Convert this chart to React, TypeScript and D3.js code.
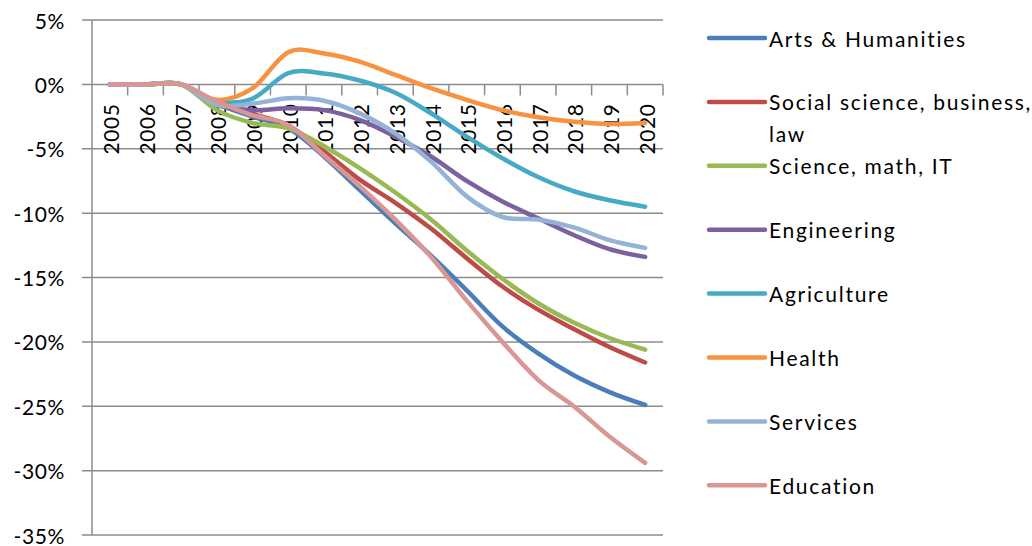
import React from "react";
import * as d3 from "d3";

const years = ["2005","2006","2007","2008","2009","2010","2011","2012","2013","2014","2015","2016","2017","2018","2019","2020"];

const artsHumanities = [0,0,0,-1.5,-2.5,-3.4,-5.6,-8.2,-10.8,-13.3,-16.0,-18.8,-20.9,-22.6,-23.9,-24.9];
const socialScience = [0,0,0,-1.5,-2.3,-3.2,-5.2,-7.4,-9.2,-11.2,-13.5,-15.7,-17.5,-19.0,-20.4,-21.6];
const scienceMath = [0,0,0,-2.0,-3.0,-3.4,-4.8,-6.5,-8.4,-10.5,-12.9,-15.1,-17.0,-18.5,-19.7,-20.6];
const engineering = [0,0,0,-1.6,-2.0,-1.86,-2.0,-2.76,-4.06,-5.6,-7.5,-9.1,-10.4,-11.7,-12.8,-13.4];
const agriculture = [0,0,0,-1.3,-1.1,0.88,0.85,0.3,-0.65,-2.25,-4.06,-5.74,-7.2,-8.3,-9.0,-9.5];
const health = [0,0,0,-1.2,-0.3,2.5,2.4,1.76,0.73,-0.3,-1.2,-2.0,-2.55,-2.9,-3.07,-3.0];
const services = [0,0,0,-1.6,-1.5,-1.08,-1.27,-2.25,-3.8,-6.0,-8.7,-10.3,-10.5,-11.1,-12.1,-12.7];
const education = [0,0,0,-1.34,-2.4,-3.15,-5.5,-7.9,-10.5,-13.4,-16.8,-20.0,-22.95,-25.0,-27.35,-29.4];

const seriesLabels = [
  ["Arts & Humanities"],
  ["Social science, business,", "law"],
  ["Science, math, IT"],
  ["Engineering"],
  ["Agriculture"],
  ["Health"],
  ["Services"],
  ["Education"],
];
const seriesValues = [artsHumanities, socialScience, scienceMath, engineering, agriculture, health, services, education];
const seriesColors = ["#4A7EBB", "#BE4B48", "#98B954", "#7D60A0", "#46AAC5", "#F69240", "#95B3D7", "#D99694"];

const yTicks = [5, 0, -5, -10, -15, -20, -25, -30, -35];

const FONT = "Lato, 'Open Sans', sans-serif";

export default function App() {
  const W = 1032, H = 546;
  const left = 92, right = 663, top = 20, bottom = 535;
  const x = d3.scaleBand<string>().domain(years).range([left, right]);
  const y = d3.scaleLinear().domain([-35, 5]).range([bottom, top]);
  const cx = (yr: string) => (x(yr) as number) + x.bandwidth() / 2;
  const line = d3
    .line<number>()
    .x((_, i) => cx(years[i]))
    .y((d) => y(d))
    .curve(d3.curveCatmullRom.alpha(0));
  const grid = "#8C8C8C";
  const legendX = 709;
  const legendY0 = 38;
  const legendStep = 63.9;

  return (
    <svg
      width={W}
      height={H}
      style={{ position: "fixed", left: 0, top: 0, background: "#fff" }}
      fontFamily={FONT}
    >
      <rect x={0} y={0} width={W} height={H} fill="#fff" />
      {yTicks.map((t) => (
        <g key={t}>
          <line x1={left - 10} x2={right} y1={y(t)} y2={y(t)} stroke={grid} strokeWidth={1.5} />
          <text
            x={65}
            y={y(t)}
            textAnchor="end"
            dominantBaseline="central"
            fontSize={21}
            letterSpacing={0.6}
            fill="#000"
          >
            {t + "%"}
          </text>
        </g>
      ))}
      <line x1={left} x2={left} y1={top} y2={bottom} stroke={grid} strokeWidth={1.5} />
      {years.map((yr) => (
        <line
          key={"t" + yr}
          x1={(x(yr) as number) + x.bandwidth()}
          x2={(x(yr) as number) + x.bandwidth()}
          y1={y(0)}
          y2={y(0) + 11}
          stroke={grid}
          strokeWidth={1.5}
        />
      ))}
      {years.map((yr) => (
        <text
          key={"l" + yr}
          transform={`translate(${cx(yr) + 1},${y(0) + 19}) rotate(-90)`}
          textAnchor="end"
          dominantBaseline="central"
          fontSize={21}
          letterSpacing={0.6}
          fill="#000"
        >
          {yr}
        </text>
      ))}
      {seriesValues.map((vals, i) => (
        <path
          key={"s" + i}
          d={line(vals) || ""}
          fill="none"
          stroke={seriesColors[i]}
          strokeWidth={4.5}
          strokeLinecap="round"
          strokeLinejoin="round"
        />
      ))}
      {seriesLabels.map((lines, i) => {
        const ly = legendY0 + i * legendStep;
        return (
          <g key={"lg" + i}>
            <line
              x1={legendX}
              x2={legendX + 56}
              y1={ly}
              y2={ly}
              stroke={seriesColors[i]}
              strokeWidth={4.5}
              strokeLinecap="round"
            />
            {lines.map((t, j) => (
              <text
                key={j}
                x={769}
                y={ly + j * 32}
                dominantBaseline="central"
                fontSize={21}
                letterSpacing={1.7}
                fill="#000"
              >
                {t}
              </text>
            ))}
          </g>
        );
      })}
    </svg>
  );
}
